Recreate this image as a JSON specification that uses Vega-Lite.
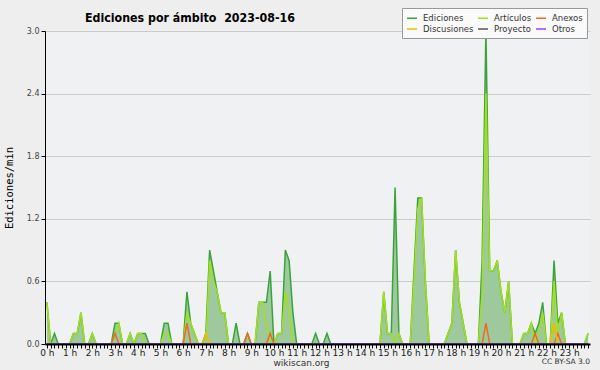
{
  "$schema": "https://vega.github.io/schema/vega-lite/v6.json",
  "width": 545,
  "height": 313,
  "autosize": {"type": "none"},
  "padding": {"left": 45, "top": 31, "right": 10, "bottom": 26},
  "background": "#eeeeee",
  "config": {"view": {"fill": "#f0f1f3", "stroke": null}, "font": "DejaVu Sans"},
  "title": {"text": "Ediciones por ámbito\u00a0 2023-08-16", "anchor": "start", "frame": "group", "dx": 40, "offset": -30, "baseline": "bottom", "font": "DejaVu Sans Condensed, DejaVu Sans", "fontSize": 12.3, "fontWeight": "bold", "color": "#000000"},
  "datasets": {
    "ed": [
      {"min":0,"Ediciones":0.4,"Artículos":0.4,"Anexos":0,"Discusiones":0,"Proyecto":0,"Otros":0},
      {"min":10,"Ediciones":0,"Artículos":0,"Anexos":0,"Discusiones":0,"Proyecto":0,"Otros":0},
      {"min":20,"Ediciones":0.1,"Artículos":0,"Anexos":0,"Discusiones":0,"Proyecto":0,"Otros":0},
      {"min":30,"Ediciones":0,"Artículos":0,"Anexos":0,"Discusiones":0,"Proyecto":0,"Otros":0},
      {"min":40,"Ediciones":0,"Artículos":0,"Anexos":0,"Discusiones":0,"Proyecto":0,"Otros":0},
      {"min":50,"Ediciones":0,"Artículos":0,"Anexos":0,"Discusiones":0,"Proyecto":0,"Otros":0},
      {"min":60,"Ediciones":0,"Artículos":0,"Anexos":0,"Discusiones":0,"Proyecto":0,"Otros":0},
      {"min":70,"Ediciones":0.1,"Artículos":0.1,"Anexos":0,"Discusiones":0,"Proyecto":0,"Otros":0},
      {"min":80,"Ediciones":0.1,"Artículos":0.1,"Anexos":0,"Discusiones":0,"Proyecto":0,"Otros":0},
      {"min":90,"Ediciones":0.3,"Artículos":0.3,"Anexos":0,"Discusiones":0,"Proyecto":0,"Otros":0},
      {"min":100,"Ediciones":0,"Artículos":0,"Anexos":0,"Discusiones":0,"Proyecto":0,"Otros":0},
      {"min":110,"Ediciones":0,"Artículos":0,"Anexos":0,"Discusiones":0,"Proyecto":0,"Otros":0},
      {"min":120,"Ediciones":0.1,"Artículos":0.1,"Anexos":0,"Discusiones":0,"Proyecto":0,"Otros":0},
      {"min":130,"Ediciones":0,"Artículos":0,"Anexos":0,"Discusiones":0,"Proyecto":0,"Otros":0},
      {"min":140,"Ediciones":0,"Artículos":0,"Anexos":0,"Discusiones":0,"Proyecto":0,"Otros":0},
      {"min":150,"Ediciones":0,"Artículos":0,"Anexos":0,"Discusiones":0,"Proyecto":0,"Otros":0},
      {"min":160,"Ediciones":0,"Artículos":0,"Anexos":0,"Discusiones":0,"Proyecto":0,"Otros":0},
      {"min":170,"Ediciones":0,"Artículos":0,"Anexos":0,"Discusiones":0,"Proyecto":0,"Otros":0},
      {"min":180,"Ediciones":0.2,"Artículos":0.1,"Anexos":0.1,"Discusiones":0,"Proyecto":0,"Otros":0},
      {"min":190,"Ediciones":0.2,"Artículos":0.2,"Anexos":0,"Discusiones":0,"Proyecto":0,"Otros":0},
      {"min":200,"Ediciones":0,"Artículos":0,"Anexos":0,"Discusiones":0,"Proyecto":0,"Otros":0},
      {"min":210,"Ediciones":0,"Artículos":0,"Anexos":0,"Discusiones":0,"Proyecto":0,"Otros":0},
      {"min":220,"Ediciones":0.1,"Artículos":0.1,"Anexos":0,"Discusiones":0,"Proyecto":0,"Otros":0},
      {"min":230,"Ediciones":0,"Artículos":0,"Anexos":0,"Discusiones":0,"Proyecto":0,"Otros":0},
      {"min":240,"Ediciones":0.1,"Artículos":0.1,"Anexos":0,"Discusiones":0,"Proyecto":0,"Otros":0},
      {"min":250,"Ediciones":0.1,"Artículos":0.1,"Anexos":0,"Discusiones":0,"Proyecto":0,"Otros":0},
      {"min":260,"Ediciones":0.1,"Artículos":0,"Anexos":0,"Discusiones":0,"Proyecto":0,"Otros":0},
      {"min":270,"Ediciones":0,"Artículos":0,"Anexos":0,"Discusiones":0,"Proyecto":0,"Otros":0},
      {"min":280,"Ediciones":0,"Artículos":0,"Anexos":0,"Discusiones":0,"Proyecto":0,"Otros":0},
      {"min":290,"Ediciones":0,"Artículos":0,"Anexos":0,"Discusiones":0,"Proyecto":0,"Otros":0},
      {"min":300,"Ediciones":0,"Artículos":0,"Anexos":0,"Discusiones":0,"Proyecto":0,"Otros":0},
      {"min":310,"Ediciones":0.2,"Artículos":0.1,"Anexos":0,"Discusiones":0,"Proyecto":0,"Otros":0},
      {"min":320,"Ediciones":0.2,"Artículos":0.1,"Anexos":0,"Discusiones":0,"Proyecto":0,"Otros":0},
      {"min":330,"Ediciones":0,"Artículos":0,"Anexos":0,"Discusiones":0,"Proyecto":0,"Otros":0},
      {"min":340,"Ediciones":0,"Artículos":0,"Anexos":0,"Discusiones":0,"Proyecto":0,"Otros":0},
      {"min":350,"Ediciones":0,"Artículos":0,"Anexos":0,"Discusiones":0,"Proyecto":0,"Otros":0},
      {"min":360,"Ediciones":0,"Artículos":0,"Anexos":0,"Discusiones":0,"Proyecto":0,"Otros":0},
      {"min":370,"Ediciones":0.5,"Artículos":0.3,"Anexos":0.2,"Discusiones":0,"Proyecto":0,"Otros":0},
      {"min":380,"Ediciones":0.2,"Artículos":0.2,"Anexos":0,"Discusiones":0,"Proyecto":0,"Otros":0},
      {"min":390,"Ediciones":0.1,"Artículos":0.1,"Anexos":0,"Discusiones":0,"Proyecto":0,"Otros":0},
      {"min":400,"Ediciones":0,"Artículos":0,"Anexos":0,"Discusiones":0,"Proyecto":0,"Otros":0},
      {"min":410,"Ediciones":0,"Artículos":0,"Anexos":0,"Discusiones":0,"Proyecto":0,"Otros":0},
      {"min":420,"Ediciones":0.1,"Artículos":0,"Anexos":0,"Discusiones":0.1,"Proyecto":0,"Otros":0},
      {"min":430,"Ediciones":0.9,"Artículos":0.8,"Anexos":0,"Discusiones":0,"Proyecto":0,"Otros":0},
      {"min":440,"Ediciones":0.7,"Artículos":0.6,"Anexos":0,"Discusiones":0,"Proyecto":0,"Otros":0},
      {"min":450,"Ediciones":0.5,"Artículos":0.5,"Anexos":0,"Discusiones":0,"Proyecto":0,"Otros":0},
      {"min":460,"Ediciones":0.3,"Artículos":0.3,"Anexos":0,"Discusiones":0,"Proyecto":0,"Otros":0},
      {"min":470,"Ediciones":0.3,"Artículos":0.3,"Anexos":0,"Discusiones":0,"Proyecto":0,"Otros":0},
      {"min":480,"Ediciones":0,"Artículos":0,"Anexos":0,"Discusiones":0,"Proyecto":0,"Otros":0},
      {"min":490,"Ediciones":0,"Artículos":0,"Anexos":0,"Discusiones":0,"Proyecto":0,"Otros":0},
      {"min":500,"Ediciones":0.2,"Artículos":0,"Anexos":0,"Discusiones":0,"Proyecto":0,"Otros":0},
      {"min":510,"Ediciones":0,"Artículos":0,"Anexos":0,"Discusiones":0,"Proyecto":0,"Otros":0},
      {"min":520,"Ediciones":0,"Artículos":0,"Anexos":0,"Discusiones":0,"Proyecto":0,"Otros":0},
      {"min":530,"Ediciones":0.1,"Artículos":0,"Anexos":0.1,"Discusiones":0,"Proyecto":0,"Otros":0},
      {"min":540,"Ediciones":0,"Artículos":0,"Anexos":0,"Discusiones":0,"Proyecto":0,"Otros":0},
      {"min":550,"Ediciones":0,"Artículos":0,"Anexos":0,"Discusiones":0,"Proyecto":0,"Otros":0},
      {"min":560,"Ediciones":0.4,"Artículos":0.4,"Anexos":0,"Discusiones":0,"Proyecto":0,"Otros":0},
      {"min":570,"Ediciones":0.4,"Artículos":0.4,"Anexos":0,"Discusiones":0,"Proyecto":0,"Otros":0},
      {"min":580,"Ediciones":0.4,"Artículos":0.2,"Anexos":0,"Discusiones":0,"Proyecto":0,"Otros":0},
      {"min":590,"Ediciones":0.7,"Artículos":0,"Anexos":0.1,"Discusiones":0,"Proyecto":0,"Otros":0},
      {"min":600,"Ediciones":0,"Artículos":0,"Anexos":0,"Discusiones":0,"Proyecto":0,"Otros":0},
      {"min":610,"Ediciones":0.1,"Artículos":0.1,"Anexos":0,"Discusiones":0,"Proyecto":0,"Otros":0},
      {"min":620,"Ediciones":0.1,"Artículos":0.1,"Anexos":0,"Discusiones":0,"Proyecto":0,"Otros":0},
      {"min":630,"Ediciones":0.9,"Artículos":0.5,"Anexos":0,"Discusiones":0,"Proyecto":0,"Otros":0},
      {"min":640,"Ediciones":0.8,"Artículos":0.3,"Anexos":0,"Discusiones":0,"Proyecto":0,"Otros":0},
      {"min":650,"Ediciones":0.3,"Artículos":0,"Anexos":0,"Discusiones":0,"Proyecto":0,"Otros":0},
      {"min":660,"Ediciones":0,"Artículos":0,"Anexos":0,"Discusiones":0,"Proyecto":0,"Otros":0},
      {"min":670,"Ediciones":0,"Artículos":0,"Anexos":0,"Discusiones":0,"Proyecto":0,"Otros":0},
      {"min":680,"Ediciones":0,"Artículos":0,"Anexos":0,"Discusiones":0,"Proyecto":0,"Otros":0},
      {"min":690,"Ediciones":0,"Artículos":0,"Anexos":0,"Discusiones":0,"Proyecto":0,"Otros":0},
      {"min":700,"Ediciones":0,"Artículos":0,"Anexos":0,"Discusiones":0,"Proyecto":0,"Otros":0},
      {"min":710,"Ediciones":0.1,"Artículos":0,"Anexos":0,"Discusiones":0,"Proyecto":0,"Otros":0},
      {"min":720,"Ediciones":0,"Artículos":0,"Anexos":0,"Discusiones":0,"Proyecto":0,"Otros":0},
      {"min":730,"Ediciones":0,"Artículos":0,"Anexos":0,"Discusiones":0,"Proyecto":0,"Otros":0},
      {"min":740,"Ediciones":0.1,"Artículos":0,"Anexos":0,"Discusiones":0,"Proyecto":0,"Otros":0},
      {"min":750,"Ediciones":0,"Artículos":0,"Anexos":0,"Discusiones":0,"Proyecto":0,"Otros":0},
      {"min":760,"Ediciones":0,"Artículos":0,"Anexos":0,"Discusiones":0,"Proyecto":0,"Otros":0},
      {"min":770,"Ediciones":0,"Artículos":0,"Anexos":0,"Discusiones":0,"Proyecto":0,"Otros":0},
      {"min":780,"Ediciones":0,"Artículos":0,"Anexos":0,"Discusiones":0,"Proyecto":0,"Otros":0},
      {"min":790,"Ediciones":0,"Artículos":0,"Anexos":0,"Discusiones":0,"Proyecto":0,"Otros":0},
      {"min":800,"Ediciones":0,"Artículos":0,"Anexos":0,"Discusiones":0,"Proyecto":0,"Otros":0},
      {"min":810,"Ediciones":0,"Artículos":0,"Anexos":0,"Discusiones":0,"Proyecto":0,"Otros":0},
      {"min":820,"Ediciones":0,"Artículos":0,"Anexos":0,"Discusiones":0,"Proyecto":0,"Otros":0},
      {"min":830,"Ediciones":0,"Artículos":0,"Anexos":0,"Discusiones":0,"Proyecto":0,"Otros":0},
      {"min":840,"Ediciones":0,"Artículos":0,"Anexos":0,"Discusiones":0,"Proyecto":0,"Otros":0},
      {"min":850,"Ediciones":0,"Artículos":0,"Anexos":0,"Discusiones":0,"Proyecto":0,"Otros":0},
      {"min":860,"Ediciones":0,"Artículos":0,"Anexos":0,"Discusiones":0,"Proyecto":0,"Otros":0},
      {"min":870,"Ediciones":0,"Artículos":0,"Anexos":0,"Discusiones":0,"Proyecto":0,"Otros":0},
      {"min":880,"Ediciones":0,"Artículos":0,"Anexos":0,"Discusiones":0,"Proyecto":0,"Otros":0},
      {"min":890,"Ediciones":0.5,"Artículos":0.5,"Anexos":0,"Discusiones":0,"Proyecto":0,"Otros":0},
      {"min":900,"Ediciones":0.1,"Artículos":0.1,"Anexos":0,"Discusiones":0,"Proyecto":0,"Otros":0},
      {"min":910,"Ediciones":0.1,"Artículos":0.1,"Anexos":0,"Discusiones":0,"Proyecto":0,"Otros":0},
      {"min":920,"Ediciones":1.5,"Artículos":0,"Anexos":0,"Discusiones":0,"Proyecto":0,"Otros":0},
      {"min":930,"Ediciones":0.1,"Artículos":0.1,"Anexos":0,"Discusiones":0,"Proyecto":0,"Otros":0},
      {"min":940,"Ediciones":0,"Artículos":0,"Anexos":0,"Discusiones":0,"Proyecto":0,"Otros":0},
      {"min":950,"Ediciones":0,"Artículos":0,"Anexos":0,"Discusiones":0,"Proyecto":0,"Otros":0},
      {"min":960,"Ediciones":0,"Artículos":0,"Anexos":0,"Discusiones":0,"Proyecto":0,"Otros":0},
      {"min":970,"Ediciones":0.7,"Artículos":0.6,"Anexos":0,"Discusiones":0,"Proyecto":0,"Otros":0},
      {"min":980,"Ediciones":1.4,"Artículos":1.3,"Anexos":0,"Discusiones":0,"Proyecto":0,"Otros":0},
      {"min":990,"Ediciones":1.4,"Artículos":1.4,"Anexos":0,"Discusiones":0,"Proyecto":0,"Otros":0},
      {"min":1000,"Ediciones":0.6,"Artículos":0.6,"Anexos":0,"Discusiones":0,"Proyecto":0,"Otros":0},
      {"min":1010,"Ediciones":0,"Artículos":0,"Anexos":0,"Discusiones":0,"Proyecto":0,"Otros":0},
      {"min":1020,"Ediciones":0,"Artículos":0,"Anexos":0,"Discusiones":0,"Proyecto":0,"Otros":0},
      {"min":1030,"Ediciones":0,"Artículos":0,"Anexos":0,"Discusiones":0,"Proyecto":0,"Otros":0},
      {"min":1040,"Ediciones":0,"Artículos":0,"Anexos":0,"Discusiones":0,"Proyecto":0,"Otros":0},
      {"min":1050,"Ediciones":0,"Artículos":0,"Anexos":0,"Discusiones":0,"Proyecto":0,"Otros":0},
      {"min":1060,"Ediciones":0.1,"Artículos":0.1,"Anexos":0,"Discusiones":0,"Proyecto":0,"Otros":0},
      {"min":1070,"Ediciones":0.2,"Artículos":0.2,"Anexos":0,"Discusiones":0,"Proyecto":0,"Otros":0},
      {"min":1080,"Ediciones":0.9,"Artículos":0.9,"Anexos":0,"Discusiones":0,"Proyecto":0,"Otros":0},
      {"min":1090,"Ediciones":0.4,"Artículos":0.4,"Anexos":0,"Discusiones":0,"Proyecto":0,"Otros":0},
      {"min":1100,"Ediciones":0.2,"Artículos":0.2,"Anexos":0,"Discusiones":0,"Proyecto":0,"Otros":0},
      {"min":1110,"Ediciones":0,"Artículos":0,"Anexos":0,"Discusiones":0,"Proyecto":0,"Otros":0},
      {"min":1120,"Ediciones":0,"Artículos":0,"Anexos":0,"Discusiones":0,"Proyecto":0,"Otros":0},
      {"min":1130,"Ediciones":0,"Artículos":0,"Anexos":0,"Discusiones":0,"Proyecto":0,"Otros":0},
      {"min":1140,"Ediciones":0,"Artículos":0,"Anexos":0,"Discusiones":0,"Proyecto":0,"Otros":0},
      {"min":1150,"Ediciones":0.8,"Artículos":0.5,"Anexos":0,"Discusiones":0,"Proyecto":0,"Otros":0},
      {"min":1160,"Ediciones":3.0,"Artículos":2.4,"Anexos":0.2,"Discusiones":0,"Proyecto":0,"Otros":0},
      {"min":1170,"Ediciones":0.7,"Artículos":0.7,"Anexos":0,"Discusiones":0,"Proyecto":0,"Otros":0},
      {"min":1180,"Ediciones":0.7,"Artículos":0.7,"Anexos":0,"Discusiones":0,"Proyecto":0,"Otros":0},
      {"min":1190,"Ediciones":0.8,"Artículos":0.8,"Anexos":0,"Discusiones":0,"Proyecto":0,"Otros":0},
      {"min":1200,"Ediciones":0.5,"Artículos":0.5,"Anexos":0,"Discusiones":0,"Proyecto":0,"Otros":0},
      {"min":1210,"Ediciones":0.3,"Artículos":0.3,"Anexos":0,"Discusiones":0,"Proyecto":0,"Otros":0},
      {"min":1220,"Ediciones":0.6,"Artículos":0.6,"Anexos":0,"Discusiones":0,"Proyecto":0,"Otros":0},
      {"min":1230,"Ediciones":0,"Artículos":0,"Anexos":0,"Discusiones":0,"Proyecto":0,"Otros":0},
      {"min":1240,"Ediciones":0,"Artículos":0,"Anexos":0,"Discusiones":0,"Proyecto":0,"Otros":0},
      {"min":1250,"Ediciones":0,"Artículos":0,"Anexos":0,"Discusiones":0,"Proyecto":0,"Otros":0},
      {"min":1260,"Ediciones":0.1,"Artículos":0.1,"Anexos":0,"Discusiones":0,"Proyecto":0,"Otros":0},
      {"min":1270,"Ediciones":0.1,"Artículos":0.1,"Anexos":0,"Discusiones":0,"Proyecto":0,"Otros":0},
      {"min":1280,"Ediciones":0.2,"Artículos":0.2,"Anexos":0,"Discusiones":0,"Proyecto":0,"Otros":0},
      {"min":1290,"Ediciones":0.1,"Artículos":0,"Anexos":0.1,"Discusiones":0,"Proyecto":0,"Otros":0},
      {"min":1300,"Ediciones":0.2,"Artículos":0.1,"Anexos":0,"Discusiones":0,"Proyecto":0,"Otros":0},
      {"min":1310,"Ediciones":0.4,"Artículos":0.3,"Anexos":0,"Discusiones":0,"Proyecto":0,"Otros":0},
      {"min":1320,"Ediciones":0,"Artículos":0,"Anexos":0,"Discusiones":0,"Proyecto":0,"Otros":0},
      {"min":1330,"Ediciones":0,"Artículos":0,"Anexos":0,"Discusiones":0,"Proyecto":0,"Otros":0},
      {"min":1340,"Ediciones":0.8,"Artículos":0.6,"Anexos":0,"Discusiones":0.2,"Proyecto":0,"Otros":0},
      {"min":1350,"Ediciones":0.2,"Artículos":0.1,"Anexos":0.1,"Discusiones":0,"Proyecto":0,"Otros":0},
      {"min":1360,"Ediciones":0.3,"Artículos":0.3,"Anexos":0,"Discusiones":0,"Proyecto":0,"Otros":0},
      {"min":1370,"Ediciones":0,"Artículos":0,"Anexos":0,"Discusiones":0,"Proyecto":0,"Otros":0},
      {"min":1380,"Ediciones":0,"Artículos":0,"Anexos":0,"Discusiones":0,"Proyecto":0,"Otros":0},
      {"min":1390,"Ediciones":0,"Artículos":0,"Anexos":0,"Discusiones":0,"Proyecto":0,"Otros":0},
      {"min":1400,"Ediciones":0,"Artículos":0,"Anexos":0,"Discusiones":0,"Proyecto":0,"Otros":0},
      {"min":1410,"Ediciones":0,"Artículos":0,"Anexos":0,"Discusiones":0,"Proyecto":0,"Otros":0},
      {"min":1420,"Ediciones":0,"Artículos":0,"Anexos":0,"Discusiones":0,"Proyecto":0,"Otros":0},
      {"min":1430,"Ediciones":0.1,"Artículos":0.1,"Anexos":0,"Discusiones":0,"Proyecto":0,"Otros":0}
    ],
    "nota": [{"texto": "CC BY-SA 3.0"}]
  },
  "layer": [
    {
      "data": {"name": "ed"},
      "transform": [
        {"fold": ["Ediciones", "Artículos", "Anexos", "Discusiones", "Proyecto", "Otros"], "as": ["serie", "valor"]},
        {"filter": "datum.serie === 'Ediciones'"}
      ],
      "mark": {"type": "area", "color": "#9dc99d", "opacity": 1},
      "encoding": {
        "x": {
          "field": "min", "type": "quantitative",
          "scale": {"domain": [-5, 1435], "nice": false, "zero": false},
          "axis": {
            "tickCount": 144,
            "labelExpr": "datum.value % 60 === 0 ? (datum.value / 60) + ' h' : ''",
            "labelOverlap": false, "labelFlush": false, "labelBound": false,
            "grid": false, "zindex": 1,
            "tickSize": 4, "tickColor": "#000000", "tickWidth": 1,
            "domainColor": "#000000", "domainWidth": 2,
            "labelFontSize": 9, "labelColor": "#222222", "labelPadding": 0,
            "title": "wikiscan.org", "titleFontSize": 9, "titleFontWeight": "normal", "titleColor": "#333333",
            "titleX": 256, "titlePadding": 1
          }
        },
        "y": {
          "field": "valor", "type": "quantitative",
          "scale": {"domain": [0, 3], "nice": false},
          "axis": {
            "values": [0, 0.15, 0.3, 0.45, 0.6, 0.75, 0.9, 1.05, 1.2, 1.35, 1.5, 1.65, 1.8, 1.95, 2.1, 2.25, 2.4, 2.55, 2.7, 2.85, 3.0],
            "labelExpr": "abs(datum.value / 0.6 - round(datum.value / 0.6)) < 0.001 ? format(datum.value, '.1f') : ''",
            "grid": true, "gridColor": "#cccccc",
            "gridOpacity": {"condition": {"test": "abs(datum.value / 0.6 - round(datum.value / 0.6)) < 0.001 && datum.value > 0", "value": 1}, "value": 0},
            "tickSize": 4, "tickColor": "#000000", "domainColor": "#000000",
            "labelFontSize": 8, "labelColor": "#444444", "labelPadding": 2,
            "labelOverlap": false, "labelFlush": false, "labelBound": false,
            "title": "Ediciones/min", "titleFont": "DejaVu Sans Mono", "titleFontSize": 10.5, "titleFontWeight": "normal", "titleColor": "#000000",
            "titlePadding": 12
          }
        }
      }
    },
    {
      "data": {"name": "ed"},
      "transform": [
        {"fold": ["Ediciones", "Artículos", "Anexos", "Discusiones", "Proyecto", "Otros"], "as": ["serie", "valor"]},
        {"filter": "datum.serie === 'Ediciones'"}
      ],
      "mark": {"type": "line", "strokeWidth": 1.5},
      "encoding": {
        "x": {"field": "min", "type": "quantitative"},
        "y": {"field": "valor", "type": "quantitative"},
        "color": {
          "field": "serie", "type": "nominal",
          "scale": {"domain": ["Ediciones", "Artículos", "Anexos", "Discusiones", "Proyecto", "Otros"], "range": ["#3ca33c", "#a3e01c", "#ee6a22", "#f5b800", "#555555", "#9944ff"]},
          "legend": {
            "orient": "none", "legendX": 357, "legendY": -23, "zindex": 1,
            "direction": "horizontal", "columns": 3, "title": null,
            "symbolType": "stroke", "symbolSize": 100, "symbolStrokeWidth": 1.5,
            "labelFont": "DejaVu Sans", "labelFontSize": 8.5, "labelColor": "#333333", "labelOffset": 5,
            "columnPadding": 1, "rowPadding": -6, "padding": 4, "gridAlign": "each",
            "fillColor": "#fafafa", "strokeColor": "#999999"
          }
        }
      }
    },
    {
      "data": {"name": "ed"},
      "transform": [
        {"fold": ["Ediciones", "Artículos", "Anexos", "Discusiones", "Proyecto", "Otros"], "as": ["serie", "valor"]},
        {"filter": "datum.serie !== 'Ediciones'"}
      ],
      "mark": {"type": "line", "strokeWidth": 1.5},
      "encoding": {
        "x": {"field": "min", "type": "quantitative"},
        "y": {"field": "valor", "type": "quantitative"},
        "color": {"field": "serie", "type": "nominal"}
      }
    },
    {
      "data": {"name": "nota"},
      "mark": {"type": "text", "align": "right", "baseline": "middle", "fontSize": 7.5, "color": "#333333"},
      "encoding": {
        "x": {"datum": 1435, "type": "quantitative"},
        "y": {"datum": -0.17, "type": "quantitative"},
        "text": {"field": "texto", "type": "nominal"}
      }
    }
  ]
}
